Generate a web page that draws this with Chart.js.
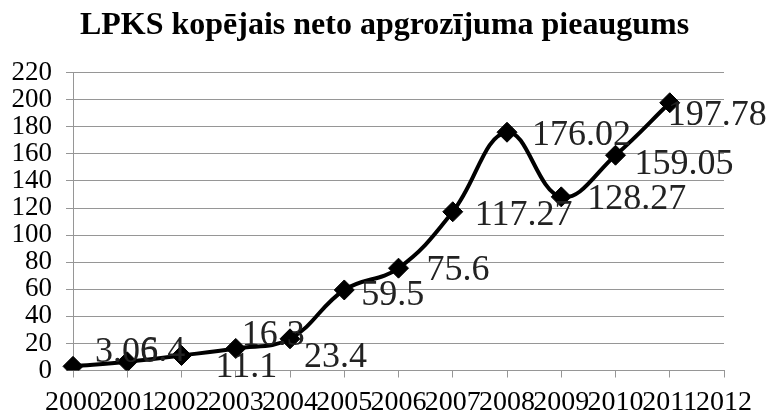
<!DOCTYPE html>
<html>
<head>
<meta charset="utf-8">
<script src="https://cdn.jsdelivr.net/npm/chart.js@4/dist/chart.umd.min.js"></script>
<style>
  html, body { margin: 0; padding: 0; background: #fff; }
  #wrap { width: 769px; height: 412px; position: relative; }
</style>
</head>
<body>
<div id="wrap"><canvas id="chart"></canvas></div>
<script>
// LPKS net turnover growth
const years = ['2000', '2001', '2002', '2003', '2004', '2005', '2006', '2007', '2008', '2009', '2010', '2011', '2012'];
const growth = [3.06, 6.4, 11.1, 16.3, 23.4, 59.5, 75.6, 117.27, 176.02, 128.27, 159.05, 197.78];
const yTicks = [0, 20, 40, 60, 80, 100, 120, 140, 160, 180, 200, 220];

// where each value label sits relative to its marker (dx, dy)
const labelShift = [[22, -14], [13, -10], [34, 12], [6, -13], [14, 19], [17, 6], [28, 2], [22, 4], [25, 3], [26, 3], [19, 9], [-2, 13]];

const serif = '"Liberation Serif", "Times New Roman", serif';

const valueLabels = {
  id: 'valueLabels',
  afterDatasetsDraw(chart) {
    const ctx = chart.ctx;
    const pts = chart.getDatasetMeta(0).data;
    ctx.save();
    ctx.font = '36px ' + serif;
    ctx.fillStyle = '#222';
    ctx.textAlign = 'left';
    ctx.textBaseline = 'middle';
    pts.forEach((p, i) => {
      const s = labelShift[i] || [20, 0];
      ctx.fillText(String(growth[i]), p.x + s[0], p.y + s[1]);
    });
    ctx.restore();
  }
};

new Chart(document.getElementById('chart'), {
  type: 'line',
  data: {
    labels: years,
    datasets: [{
      data: growth,
      borderColor: '#000',
      borderWidth: 4,
      tension: 0.4,
      pointStyle: 'rectRot',
      pointRadius: 10,
      pointBackgroundColor: '#000',
      pointBorderColor: '#000',
      pointBorderWidth: 1
    }]
  },
  options: {
    responsive: true,
    maintainAspectRatio: false,
    animation: false,
    layout: { padding: 0 },
    plugins: {
      legend: { display: false },
      tooltip: { enabled: false },
      title: {
        display: true,
        text: 'LPKS kopējais neto apgrozījuma pieaugums',
        color: '#000',
        font: { family: serif, size: 32, weight: 'bold', lineHeight: 1.2 },
        padding: { top: 6.5, bottom: 27.8 }
      }
    },
    scales: {
      x: {
        offset: false,
        grid: { display: true, drawOnChartArea: false, color: '#969696', tickLength: 7 },
        border: { color: '#969696', width: 1 },
        ticks: { color: '#000', autoSkip: false, maxRotation: 0, minRotation: 0, padding: 8, font: { family: serif, size: 28 } },
        afterFit: s => { s.height = 41.5; }
      },
      y: {
        min: 0,
        max: 220,
        afterBuildTicks: s => { s.ticks = yTicks.map(v => ({ value: v })); },
        grid: { color: '#969696', tickLength: 7 },
        border: { color: '#969696', width: 1 },
        ticks: { color: '#000', autoSkip: false, padding: 14, font: { family: serif, size: 27 } },
        afterFit: s => { s.width = 73; }
      },
      // empty right gutter so the title centres on the whole picture
      gutter: {
        position: 'right',
        grid: { display: false },
        border: { display: false },
        ticks: { display: false },
        afterFit: s => { s.width = 45; }
      }
    }
  },
  plugins: [valueLabels]
});
</script>
</body>
</html>
